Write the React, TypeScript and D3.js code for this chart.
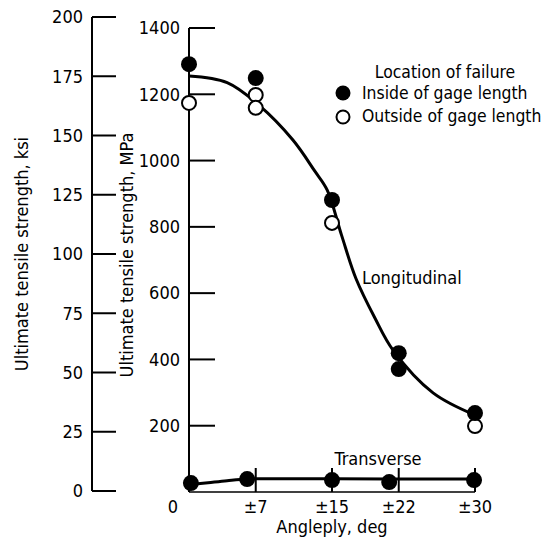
import React from "react";
import * as d3 from "d3";

// Measured ultimate tensile strength vs. angleply, MPa
const longInsideAngles = [0, 7, 15, 22, 22, 30];
const longInsideValues = [1291, 1249, 881, 419, 371, 238];
const longOutsideAngles = [0, 7, 7, 15, 30];
const longOutsideValues = [1174, 1198, 1159, 812, 199];
const transInsideAngles = [0.2, 6.1, 15, 21, 29.9];
const transInsideValues = [27, 39, 36, 30, 36];

// Faired curves through the data
const longCurveAngles = [0, 4, 7.3, 10.9, 13.2, 14.5, 16, 17.5, 19.5, 21.4, 25.6, 30];
const longCurveValues = [1255, 1235, 1168, 1062, 968, 911, 775, 645, 525, 428, 299, 232];
const transCurveAngles = [0, 2, 4, 6.1, 10, 15, 22, 30];
const transCurveValues = [22, 28, 34, 39, 40, 40, 39, 39];

// Axes
const xTickValues = [0, 7, 15, 22, 30];
const xTickLabels = ["0", "±7", "±15", "±22", "±30"];
const mpaTicks = [0, 200, 400, 600, 800, 1000, 1200, 1400];
const ksiTicks = [0, 25, 50, 75, 100, 125, 150, 175, 200];

const FONT = "'Liberation Sans Narrow', 'DejaVu Sans Condensed', 'Arial Narrow', sans-serif";

export default function App() {
  const W = 546;
  const H = 544;
  const x = d3.scaleLinear().domain([0, 30]).range([189, 475]);
  const y = d3.scaleLinear().domain([0, 1400]).range([492, 28]);
  const yKsi = d3.scaleLinear().domain([0, 200]).range([491, 17]);

  const axisX = x(0);
  const ksiX = 92;

  const longLine = d3
    .line<number>()
    .x((_, i) => x(longCurveAngles[i]))
    .y((d) => y(d))
    .curve(d3.curveCatmullRom.alpha(0.5));
  const transLine = d3
    .line<number>()
    .x((_, i) => x(transCurveAngles[i]))
    .y((d) => y(d))
    .curve(d3.curveCatmullRom.alpha(0.5));

  const textStyle = { fontFamily: FONT, fontSize: 18, fill: "#000" } as const;
  const legendStyle = { ...textStyle, fontSize: 17.4 } as const;

  return (
    <svg
      width={W}
      height={H}
      style={{ position: "absolute", left: 0, top: 0, background: "#fff" }}
    >
      <rect width={W} height={H} fill="#fff" />

      {/* ksi axis */}
      <line x1={ksiX} x2={ksiX} y1={yKsi(200)} y2={yKsi(0)} stroke="#000" strokeWidth={2} />
      {ksiTicks.map((t) => (
        <g key={`k${t}`}>
          <line x1={ksiX} x2={ksiX + 24} y1={yKsi(t)} y2={yKsi(t)} stroke="#000" strokeWidth={2} />
          <text x={83} y={yKsi(t)} dy="0.35em" textAnchor="end" style={textStyle}>
            {t}
          </text>
        </g>
      ))}
      <text
        transform={`translate(22,254) rotate(-90)`}
        dy="0.35em"
        textAnchor="middle"
        style={textStyle}
      >
        Ultimate tensile strength, ksi
      </text>

      {/* MPa axis */}
      <line x1={axisX} x2={axisX} y1={y(1400)} y2={y(0)} stroke="#000" strokeWidth={2} />
      {mpaTicks
        .filter((t) => t > 0)
        .map((t) => (
          <g key={`m${t}`}>
            <line x1={axisX} x2={axisX + 26} y1={y(t)} y2={y(t)} stroke="#000" strokeWidth={2} />
            <text x={180} y={y(t)} dy="0.35em" textAnchor="end" style={textStyle}>
              {t}
            </text>
          </g>
        ))}
      <text
        transform={`translate(127,255) rotate(-90)`}
        dy="0.35em"
        textAnchor="middle"
        style={textStyle}
      >
        Ultimate tensile strength, MPa
      </text>

      {/* angleply axis */}
      <line x1={axisX} x2={x(30)} y1={y(0)} y2={y(0)} stroke="#000" strokeWidth={1.5} />
      {xTickValues.map((t, i) => (
        <g key={`x${t}`}>
          {t > 0 && (
            <line x1={x(t)} x2={x(t)} y1={y(0)} y2={y(0) - 24} stroke="#000" strokeWidth={2} />
          )}
          <text
            x={t === 0 ? 173 : x(t)}
            y={507}
            dy="0.35em"
            textAnchor="middle"
            style={textStyle}
          >
            {xTickLabels[i]}
          </text>
        </g>
      ))}
      <text x={332} y={533} textAnchor="middle" style={textStyle}>
        Angleply, deg
      </text>

      {/* curves */}
      <path d={longLine(longCurveValues) ?? ""} fill="none" stroke="#000" strokeWidth={3} />
      <path d={transLine(transCurveValues) ?? ""} fill="none" stroke="#000" strokeWidth={3} />

      {/* points */}
      {longOutsideValues.map((v, i) => (
        <circle
          key={`lo${i}`}
          cx={x(longOutsideAngles[i])}
          cy={y(v)}
          r={7}
          fill="#fff"
          stroke="#000"
          strokeWidth={2}
        />
      ))}
      {longInsideValues.map((v, i) => (
        <circle key={`li${i}`} cx={x(longInsideAngles[i])} cy={y(v)} r={8} fill="#000" />
      ))}
      {transInsideValues.map((v, i) => (
        <circle
          key={`ti${i}`}
          cx={x(transInsideAngles[i])}
          cy={y(v)}
          r={8}
          fill="#000"
        />
      ))}

      {/* series labels */}
      <text x={362} y={284} style={textStyle}>
        Longitudinal
      </text>
      <text x={378} y={465} textAnchor="middle" style={textStyle}>
        Transverse
      </text>

      {/* legend */}
      <text x={445} y={78} textAnchor="middle" style={legendStyle}>
        Location of failure
      </text>
      <circle cx={343} cy={93} r={7.5} fill="#000" />
      <text x={362} y={99} style={legendStyle}>
        Inside of gage length
      </text>
      <circle cx={343} cy={117} r={6.5} fill="#fff" stroke="#000" strokeWidth={2} />
      <text x={362} y={122} style={legendStyle}>
        Outside of gage length
      </text>
    </svg>
  );
}
